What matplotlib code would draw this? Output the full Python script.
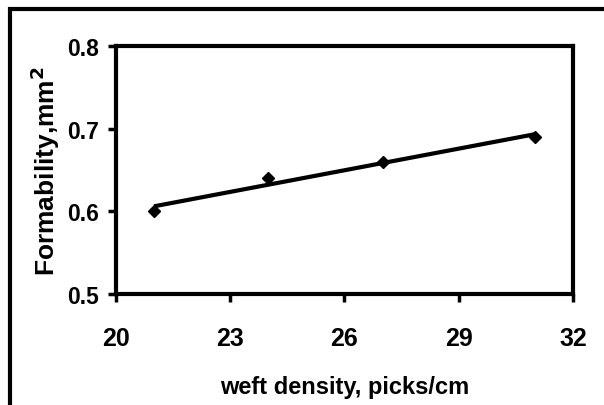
import numpy as np
import matplotlib.pyplot as plt
from matplotlib.patches import Rectangle

# data
weft_density = [21, 24, 27, 31]
formability = [0.60, 0.64, 0.66, 0.69]
x_ticks = [20, 23, 26, 29, 32]
y_ticks = [0.5, 0.6, 0.7, 0.8]

plt.rcParams['font.family'] = ['Liberation Sans', 'DejaVu Sans']
plt.rcParams['font.weight'] = 'bold'
plt.rcParams['mathtext.default'] = 'bf'

fig = plt.figure(figsize=(6.04, 4.06), dpi=100)
ax = fig.add_axes([116 / 604, 1 - 295 / 406, (573 - 116) / 604, (295 - 47) / 406])

# linear trendline
coef = np.polyfit(weft_density, formability, 1)
xs = np.array([min(weft_density), max(weft_density)])
ax.plot(xs, np.polyval(coef, xs), color='black', lw=3, solid_capstyle='butt', zorder=2)
ax.plot(weft_density, formability, linestyle='none', marker='D', ms=6,
        color='black', zorder=3)

ax.set_xlim(20, 32)
ax.set_ylim(0.5, 0.8)
ax.set_xticks(x_ticks)
ax.set_yticks(y_ticks)
ax.set_yticklabels([f"{v:.1f}" for v in y_ticks])
for s in ax.spines.values():
    s.set_linewidth(3)
ax.tick_params(axis='both', direction='out', length=6, width=2.5)
ax.tick_params(axis='x', pad=17, labelsize=18)
ax.tick_params(axis='y', pad=6, labelsize=16.5)

ax.set_xlabel('weft density, picks/cm', fontsize=17, fontweight='bold', labelpad=18)
ax.set_ylabel('Formability,mm$^{2}$', fontsize=19, fontweight='bold', labelpad=4)

# outer frame (cut off on right and bottom like the original)
fig.patches.append(Rectangle((10 / 604, -0.1), 1.2, 1 - 10 / 406 + 0.1,
                             transform=fig.transFigure, fill=False,
                             edgecolor='black', lw=3))

fig.savefig('out.png', dpi=100)
